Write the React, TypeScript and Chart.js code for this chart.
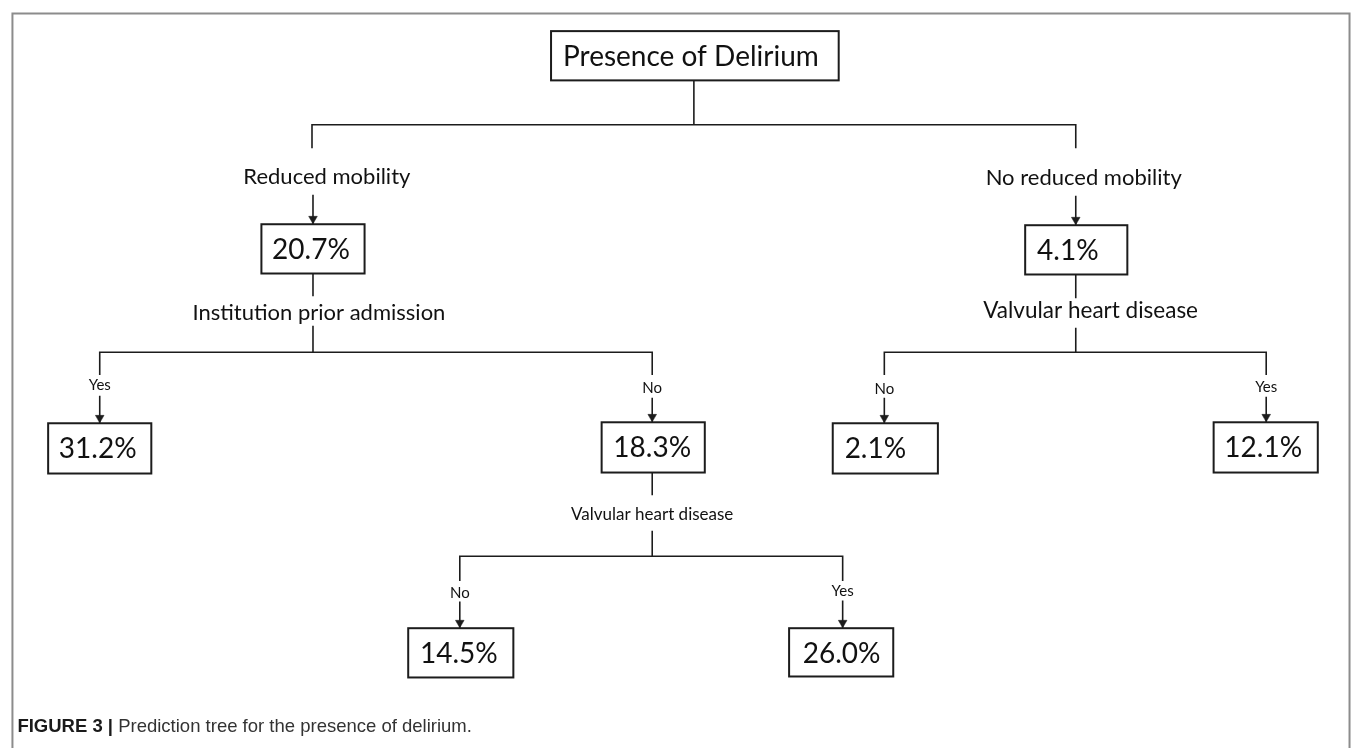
import { useEffect, useRef } from "react";
import { Chart, registerables } from "chart.js";

Chart.register(...registerables);

const W = 1358;
const H = 748;

// ---- content (values / texts) ----
const nodeLabels = ["Presence of Delirium", "20.7%", "4.1%", "31.2%", "18.3%", "2.1%", "12.1%", "14.5%", "26.0%"];
const splitLabels = ["Reduced mobility", "No reduced mobility", "Institution prior admission", "Valvular heart disease", "Valvular heart disease"];
const branchLabels = ["Yes", "No", "No", "Yes", "No", "Yes"];
const captionLead = "FIGURE 3 |";
const captionText = "Prediction tree for the presence of delirium.";

// ---- layout (positions in chart units, 1 unit = 1 px) ----
const nodeBoxes = [
  [550, 26, 840, 76],
  [258, 222, 362, 272],
  [1028, 223, 1131, 273],
  [43, 424, 147, 475],
  [601, 423, 705, 474],
  [834, 424, 940, 475],
  [1218, 423, 1323, 474],
  [406, 632, 512, 682],
  [790, 632, 895, 681],
];
const nodeTextPos = [
  [691, 52], [308, 248], [1071, 249], [93, 450], [652, 449], [877, 450], [1268, 449], [457, 658], [843, 658],
];
const nodeFontSizes = [28, 28, 28, 28, 28, 28, 28, 28, 28];
const splitPos = [[324, 174], [1087, 175], [316, 312], [1094, 310], [652, 517]];
const splitFontSizes = [22, 22, 22, 22.5, 17];
const branchPos = [[95, 385], [652, 388], [886, 389], [1271, 387], [458, 596], [844, 594]];
const branchFontSize = 15;

const connectorPaths = [
  [[694, 76], [694, 121]],
  [[309, 145], [309, 121], [1079, 121], [1079, 145]],
  [[310, 272], [310, 295]],
  [[310, 325], [310, 352]],
  [[95, 375], [95, 352], [652, 352], [652, 375]],
  [[1079, 273], [1079, 297]],
  [[1079, 327], [1079, 352]],
  [[886, 375], [886, 352], [1271, 352], [1271, 375]],
  [[652, 474], [652, 497]],
  [[652, 533], [652, 559]],
  [[458, 584], [458, 559], [844, 559], [844, 584]],
];
const arrowPaths = [
  [[310, 192], [310, 222]],
  [[1079, 193], [1079, 223]],
  [[95, 396], [95, 424]],
  [[652, 398], [652, 423]],
  [[886, 398], [886, 424]],
  [[1271, 397], [1271, 423]],
  [[458, 605], [458, 632]],
  [[844, 604], [844, 632]],
];

const LINE = "#1c1c1c";
const TEXT = "#111111";
const FONT = "Lato, 'Open Sans', sans-serif";
const ARROW_R = 5;

export default function App() {
  const ref = useRef<HTMLCanvasElement | null>(null);

  useEffect(() => {
    document.body.style.margin = "0";
    const canvas = ref.current;
    if (!canvas) return;

    const toPts = (p: number[][]) => p.map(([x, y]) => ({ x, y }));

    const datasets: any[] = [
      ...connectorPaths.map((p) => ({
        data: toPts(p),
        showLine: true,
        borderColor: LINE,
        borderWidth: 1.6,
        pointRadius: 0,
        tension: 0,
        fill: false,
      })),
      ...arrowPaths.map((p) => ({
        data: toPts(p),
        showLine: true,
        borderColor: LINE,
        borderWidth: 1.6,
        pointRadius: 0,
        tension: 0,
        fill: false,
      })),
      {
        data: arrowPaths.map((p) => ({ x: p[1][0], y: p[1][1] - ARROW_R - 0.5 })),
        showLine: false,
        pointStyle: "triangle",
        rotation: 180,
        pointRadius: ARROW_R,
        backgroundColor: LINE,
        borderColor: LINE,
        borderWidth: 0.5,
      },
    ];

    const treePlugin = {
      id: "treePlugin",
      beforeDraw(chart: any) {
        const ctx = chart.ctx;
        ctx.save();
        ctx.fillStyle = "#ffffff";
        ctx.fillRect(0, 0, chart.width, chart.height);
        ctx.restore();
      },
      afterDatasetsDraw(chart: any) {
        const ctx = chart.ctx;
        const xs = chart.scales.x;
        const ys = chart.scales.y;
        const px = (v: number) => xs.getPixelForValue(v);
        const py = (v: number) => ys.getPixelForValue(v);
        ctx.save();

        // frame
        ctx.strokeStyle = "#8c8c8c";
        ctx.lineWidth = 2;
        ctx.beginPath();
        ctx.moveTo(px(7), py(760));
        ctx.lineTo(px(7), py(8));
        ctx.lineTo(px(1355), py(8));
        ctx.lineTo(px(1355), py(760));
        ctx.stroke();

        // node boxes
        nodeBoxes.forEach((b, i) => {
          const x1 = px(b[0]);
          const y1 = py(b[1]);
          const x2 = px(b[2]);
          const y2 = py(b[3]);
          ctx.fillStyle = "#ffffff";
          ctx.fillRect(x1, y1, x2 - x1, y2 - y1);
          ctx.strokeStyle = LINE;
          ctx.lineWidth = 2;
          ctx.strokeRect(x1, y1, x2 - x1, y2 - y1);
          ctx.fillStyle = TEXT;
          ctx.font = `${nodeFontSizes[i]}px ${FONT}`;
          ctx.textAlign = "center";
          ctx.textBaseline = "middle";
          ctx.fillText(nodeLabels[i], px(nodeTextPos[i][0]), py(nodeTextPos[i][1]));
        });

        // split labels
        splitLabels.forEach((t, i) => {
          ctx.fillStyle = TEXT;
          ctx.font = `${splitFontSizes[i]}px ${FONT}`;
          ctx.textAlign = "center";
          ctx.textBaseline = "middle";
          ctx.fillText(t, px(splitPos[i][0]), py(splitPos[i][1]));
        });

        // branch labels
        branchLabels.forEach((t, i) => {
          ctx.fillStyle = TEXT;
          ctx.font = `${branchFontSize}px ${FONT}`;
          ctx.textAlign = "center";
          ctx.textBaseline = "middle";
          ctx.fillText(t, px(branchPos[i][0]), py(branchPos[i][1]));
        });

        // caption
        ctx.textAlign = "left";
        ctx.textBaseline = "alphabetic";
        ctx.fillStyle = "#1a1a1a";
        ctx.font = "bold 18.5px 'Liberation Sans', Arial, sans-serif";
        const cx = px(12);
        const cy = py(737);
        ctx.fillText(captionLead, cx, cy);
        const w = ctx.measureText(captionLead + " ").width;
        ctx.font = "18.5px 'Liberation Sans', Arial, sans-serif";
        ctx.fillStyle = "#333333";
        ctx.fillText(captionText, cx + w, cy);

        ctx.restore();
      },
    };

    const chart = new Chart(canvas, {
      type: "scatter",
      data: { datasets },
      options: {
        animation: false,
        responsive: false,
        devicePixelRatio: 1,
        layout: { padding: 0 },
        plugins: { legend: { display: false }, tooltip: { enabled: false } },
        events: [],
        scales: {
          x: { type: "linear", min: 0, max: W, display: false },
          y: { type: "linear", min: 0, max: H, reverse: true, display: false },
        },
      },
      plugins: [treePlugin],
    } as any);

    return () => chart.destroy();
  }, []);

  return (
    <div style={{ position: "absolute", left: 0, top: 0, width: W, height: H }}>
      <canvas ref={ref} width={W} height={H} style={{ width: W, height: H, display: "block" }} />
    </div>
  );
}
